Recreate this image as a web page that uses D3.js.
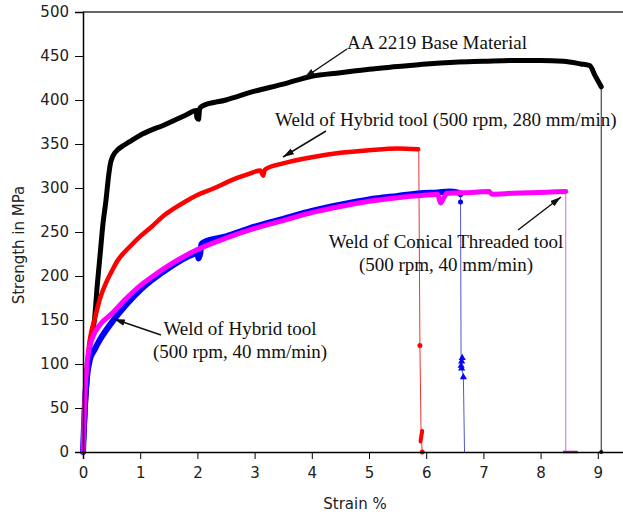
<!DOCTYPE html>
<html>
<head>
<meta charset="utf-8">
<script src="https://cdn.jsdelivr.net/npm/d3@7"></script>
<style>
  html, body { margin: 0; padding: 0; background: #fff; }
  svg { display: block; }
</style>
</head>
<body>
<svg id="chart" width="623" height="518"></svg>
<script>
// Tensile curves: strain (%) vs strength (MPa)
const baseStrain = [0, 0.05, 0.1, 0.15, 0.2, 0.25, 0.3, 0.35, 0.4, 0.45, 0.48, 0.52, 0.6, 0.7, 0.8, 1.0, 1.2, 1.4, 1.6, 1.8, 1.98, 1.99, 2.02, 2.04, 2.08, 2.5, 3.0, 3.5, 4.0, 4.5, 5.0, 5.5, 6.0, 6.5, 7.0, 7.5, 8.0, 8.4, 8.7, 8.86, 8.95, 9.06];
const baseStress = [0, 60, 110, 132, 150, 190, 225, 260, 285, 315, 328, 336, 343, 348, 352, 360, 366, 371, 377, 383, 388, 380, 378, 390, 393, 400, 410, 418, 427, 431, 435, 438, 441, 443, 444, 445, 445, 444, 441, 439, 428, 415];

const hybrid280Strain = [0, 0.05, 0.1, 0.15, 0.2, 0.3, 0.4, 0.5, 0.6, 0.8, 1.0, 1.2, 1.4, 1.6, 1.8, 2.0, 2.3, 2.6, 2.9, 3.1, 3.15, 3.18, 3.5, 4.0, 4.5, 5.0, 5.5, 5.86];
const hybrid280Stress = [0, 70, 118, 138, 150, 175, 192, 205, 217, 232, 245, 256, 268, 277, 285, 292, 300, 309, 316, 320, 314, 321, 328, 335, 340, 343, 345, 344];

const hybrid40Strain = [0, 0.03, 0.07, 0.12, 0.2, 0.3, 0.5, 0.75, 1.0, 1.5, 1.9, 2.0, 2.02, 2.05, 2.07, 2.1, 2.5, 3.0, 3.5, 4.0, 4.5, 5.0, 5.5, 5.9, 6.2, 6.4, 6.55, 6.6];
const hybrid40Stress = [0, 50, 85, 105, 116, 128, 147, 167, 184, 209, 224, 226, 220, 226, 236, 238, 245, 256, 265, 274, 281, 287, 291, 294, 295, 296, 295, 293];

const conicalStrain = [0, 0.03, 0.07, 0.1, 0.15, 0.2, 0.3, 0.5, 0.75, 1.0, 1.25, 1.5, 2.0, 2.5, 3.0, 3.5, 4.0, 4.5, 5.0, 5.5, 6.0, 6.2, 6.25, 6.3, 6.36, 6.8, 7.1, 7.15, 7.5, 8.0, 8.44];
const conicalStress = [0, 60, 100, 115, 127, 135, 145, 157, 174, 189, 201, 212, 230, 243, 254, 263, 272, 279, 285, 289, 292, 293, 283, 288, 294, 295, 296, 293, 294, 295, 296];

// Fracture drops after peak load
const baseDropStrain = [9.06, 9.06];
const baseDropStress = [415, 0];
const hybrid280DropStrain = [5.87, 5.89, 5.91, 5.93];
const hybrid280DropStress = [344, 121, 23, 0];
const hybrid40DropStrain = [6.6, 6.61, 6.65, 6.67];
const hybrid40DropStress = [293, 100, 85, 0];
const conicalDropStrain = [8.44, 8.44];
const conicalDropStress = [296, 0];

// Scattered points recorded during fracture
const redMarkStrain = [5.89, 5.93];
const redMarkStress = [121, 0];
const blueMarkStrain = [6.61, 6.62, 6.63, 6.62, 6.65];
const blueMarkStress = [98, 103, 107, 95, 85];

const xTicks = [0, 1, 2, 3, 4, 5, 6, 7, 8, 9];
const yTicks = [0, 50, 100, 150, 200, 250, 300, 350, 400, 450, 500];

const svg = d3.select("#chart");
const x = d3.scaleLinear().domain([0, 9.5]).range([83, 626.4]);
const y = d3.scaleLinear().domain([0, 500]).range([452, 12]);

const pts = (xs, ys) => xs.map((v, i) => [v, ys[i]]);
const line = d3.line().x(d => x(d[0])).y(d => y(d[1]));
const smooth = d3.line().x(d => x(d[0])).y(d => y(d[1])).curve(d3.curveMonotoneX);

// top frame
svg.append("line")
  .attr("x1", x(0)).attr("x2", 623).attr("y1", y(500)).attr("y2", y(500))
  .attr("stroke", "#666").attr("stroke-width", 1.8);

// thin fracture lines
const drops = [
  [baseDropStrain, baseDropStress, "#222"],
  [hybrid280DropStrain, hybrid280DropStress, "#e33"],
  [hybrid40DropStrain, hybrid40DropStress, "#5555cc"],
  [conicalDropStrain, conicalDropStress, "#d36bd3"]
];
drops.forEach(([xs, ys, c]) => {
  svg.append("path").attr("d", line(pts(xs, ys)))
    .attr("fill", "none").attr("stroke", c).attr("stroke-width", 1);
});

// main curves
const curves = [
  [baseStrain, baseStress, "#000", 5],
  [hybrid280Strain, hybrid280Stress, "#f00", 4.5],
  [hybrid40Strain, hybrid40Stress, "#0000ff", 6],
  [conicalStrain, conicalStress, "#ff00ff", 5]
];
curves.forEach(([xs, ys, c, w]) => {
  svg.append("path").attr("d", smooth(pts(xs, ys)))
    .attr("fill", "none").attr("stroke", c).attr("stroke-width", w)
    .attr("stroke-linejoin", "round").attr("stroke-linecap", "round");
});

// fracture debris
svg.append("path").attr("d", line([[5.9, 12], [5.93, 24]]))
  .attr("stroke", "#f00").attr("stroke-width", 4).attr("stroke-linecap", "round");
svg.append("path").attr("d", line([[8.39, 0], [8.65, 0]]))
  .attr("stroke", "#d000d0").attr("stroke-width", 2.5);
svg.selectAll(".rm").data(pts(redMarkStrain, redMarkStress)).enter()
  .append("circle").attr("cx", d => x(d[0])).attr("cy", d => y(d[1]))
  .attr("r", 2.5).attr("fill", "#f00");
svg.selectAll(".bm").data(pts(blueMarkStrain, blueMarkStress)).enter()
  .append("path")
  .attr("transform", d => `translate(${x(d[0])},${y(d[1])})`)
  .attr("d", d3.symbol(d3.symbolTriangle, 22))
  .attr("fill", "#0000ff");
svg.append("circle").attr("cx", x(6.6)).attr("cy", y(284)).attr("r", 2.5).attr("fill", "#0000ff");
svg.append("circle").attr("cx", x(9.06)).attr("cy", y(0)).attr("r", 2).attr("fill", "#000");

// axes
const xMinor = d3.range(0, 9.51, 0.5);
const yMinor = d3.range(0, 501, 25);
const axisFont = "'DejaVu Sans', sans-serif";

const gx = svg.append("g").attr("transform", `translate(0,${y(0)})`);
gx.call(d3.axisBottom(x).tickValues(xMinor).tickSize(4).tickFormat(""));
gx.call(d3.axisBottom(x).tickValues(xTicks).tickSize(7).tickPadding(8).tickFormat(d3.format("d")));
gx.select(".domain").attr("stroke-width", 1.5);
gx.selectAll("text").style("font-family", axisFont).style("font-size", "15px").attr("fill", "#222");

const gy = svg.append("g").attr("transform", `translate(${x(0)},0)`);
gy.call(d3.axisLeft(y).tickValues(yMinor).tickSize(5).tickFormat(""));
gy.call(d3.axisLeft(y).tickValues(yTicks).tickSize(8).tickPadding(6).tickFormat(d3.format("d")));
gy.select(".domain").attr("stroke-width", 1.5);
gy.selectAll("text").style("font-family", axisFont).style("font-size", "15px").attr("fill", "#222");

svg.append("text").attr("x", 355).attr("y", 509)
  .attr("text-anchor", "middle").style("font-family", axisFont).style("font-size", "15px")
  .attr("fill", "#222").text("Strain %");
svg.append("text").attr("transform", "translate(24,245) rotate(-90)")
  .attr("text-anchor", "middle").style("font-family", axisFont).style("font-size", "15px")
  .attr("fill", "#222").text("Strength in MPa");

// annotations
svg.append("defs").append("marker")
  .attr("id", "arrow").attr("viewBox", "0 0 10 6").attr("refX", 10).attr("refY", 3)
  .attr("markerWidth", 11).attr("markerHeight", 7).attr("markerUnits", "userSpaceOnUse")
  .attr("orient", "auto")
  .append("path").attr("d", "M0,0L10,3L0,6Z").attr("fill", "#111");

const serif = "'Liberation Serif', 'Times New Roman', serif";
const notes = [
  { lines: ["AA 2219 Base Material"], x: 347, y: 49, anchor: "start", arrow: [[347, 49], [304, 78]] },
  { lines: ["Weld of Hybrid tool (500 rpm, 280 mm/min)"], x: 275, y: 126, anchor: "start", arrow: [[326, 131], [283, 157]] },
  { lines: ["Weld of Conical Threaded tool", "(500 rpm, 40 mm/min)"], x: 446, y: 248, anchor: "middle", arrow: [[518, 230], [561, 197]] },
  { lines: ["Weld of Hybrid tool", "(500 rpm, 40 mm/min)"], x: 240, y: 335, anchor: "middle", arrow: [[161, 335], [114, 319]] }
];
notes.forEach(n => {
  const t = svg.append("text").attr("x", n.x).attr("y", n.y)
    .attr("text-anchor", n.anchor).style("font-family", serif).style("font-size", "19px")
    .attr("fill", "#111");
  n.lines.forEach((s, i) => t.append("tspan").attr("x", n.x).attr("dy", i ? 23 : 0).text(s));
  svg.append("line")
    .attr("x1", n.arrow[0][0]).attr("y1", n.arrow[0][1])
    .attr("x2", n.arrow[1][0]).attr("y2", n.arrow[1][1])
    .attr("stroke", "#111").attr("stroke-width", 1.5).attr("marker-end", "url(#arrow)");
});
</script>
</body>
</html>
